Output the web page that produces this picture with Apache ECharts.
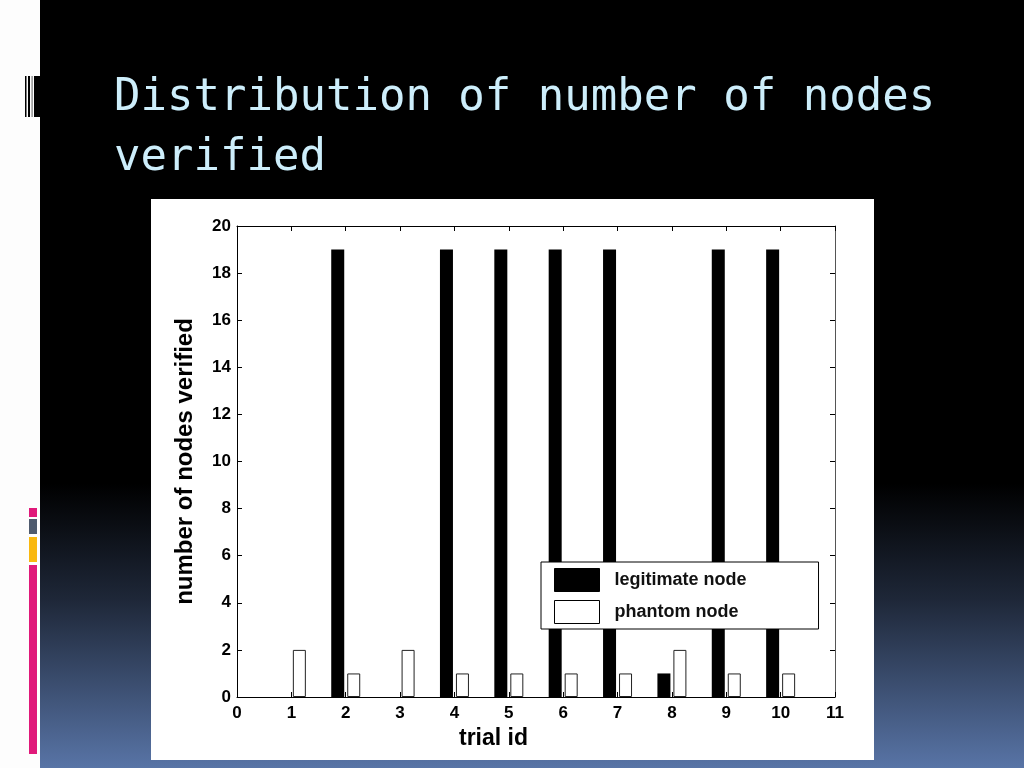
<!DOCTYPE html>
<html>
<head>
<meta charset="utf-8">
<script src="https://cdn.jsdelivr.net/npm/echarts@6/dist/echarts.min.js"></script>
<style>
html,body{margin:0;padding:0;background:#000;}
#c{width:1024px;height:768px;}
</style>
</head>
<body>
<div id="c"></div>
<script>
// ---- data ----
var trialIds = [1, 2, 3, 4, 5, 6, 7, 8, 9, 10];
var legitimateNodes = [0, 19, 0, 19, 19, 19, 19, 1, 19, 19];
var phantomNodes = [2, 1, 2, 1, 1, 1, 1, 2, 1, 1];
var seriesNames = ['legitimate node', 'phantom node'];
var titleText = 'Distribution of number of nodes\nverified';
var xAxisName = 'trial id';
var yAxisName = 'number of nodes verified';

var legitData = trialIds.map(function (t, i) { return [t, legitimateNodes[i]]; });
var phantomData = trialIds.map(function (t, i) { return [t, phantomNodes[i]]; });

var chart = echarts.init(document.getElementById('c'), null, {renderer: 'canvas'});
var font = 'Liberation Sans, Arial, Helvetica, sans-serif';

var option = {
  animation: false,
  backgroundColor: 'transparent',
  graphic: [
    {type: 'rect', z: -100, shape: {x: 0, y: 0, width: 1024, height: 768},
      style: {fill: new echarts.graphic.LinearGradient(0, 0, 0, 1, [
        {offset: 0, color: '#000000'},
        {offset: 0.63, color: '#000000'},
        {offset: 0.78, color: '#1e2738'},
        {offset: 1, color: '#5874a6'}
      ])}},
    {type: 'rect', z: -99, shape: {x: 0, y: 0, width: 40, height: 768}, style: {fill: '#fdfdfd'}},
    {type: 'rect', z: -98, shape: {x: 25, y: 76, width: 1.5, height: 41}, style: {fill: '#000'}},
    {type: 'rect', z: -98, shape: {x: 28, y: 76, width: 2, height: 41}, style: {fill: '#000'}},
    {type: 'rect', z: -98, shape: {x: 31.5, y: 76, width: 1.2, height: 41}, style: {fill: '#777'}},
    {type: 'rect', z: -98, shape: {x: 34, y: 76, width: 6, height: 41}, style: {fill: '#000'}},
    {type: 'rect', z: -98, shape: {x: 29, y: 508, width: 8, height: 9}, style: {fill: '#e0197a'}},
    {type: 'rect', z: -98, shape: {x: 29, y: 519, width: 8, height: 15}, style: {fill: '#4f5b6e'}},
    {type: 'rect', z: -98, shape: {x: 29, y: 537, width: 8, height: 25}, style: {fill: '#f9b80f'}},
    {type: 'rect', z: -98, shape: {x: 29, y: 565, width: 8, height: 189}, style: {fill: '#e0197a'}},
    {type: 'rect', z: -97, shape: {x: 151, y: 199, width: 723, height: 561}, style: {fill: '#ffffff'}},
    {type: 'text', z: 10, left: 459, top: 727,
      style: {text: xAxisName, font: 'bold 23px ' + font, fill: '#000'}}
  ],
  title: {
    text: titleText,
    left: 109,
    top: 64,
    textStyle: {
      fontFamily: 'DejaVu Sans Mono, monospace',
      fontSize: 44,
      fontWeight: 'normal',
      color: '#cdeefb',
      lineHeight: 60
    }
  },
  legend: {
    orient: 'vertical',
    left: 541,
    top: 562,
    padding: [6, 72, 5, 13],
    itemWidth: 45,
    itemHeight: 23,
    itemGap: 8,
    backgroundColor: '#fff',
    borderColor: '#000',
    borderWidth: 1,
    borderRadius: 0,
    icon: 'rect',
    textStyle: {fontFamily: font, fontSize: 18, fontWeight: 'bold', color: '#111', padding: [0, 0, 0, 10]},
    data: [
      {name: seriesNames[0], itemStyle: {color: '#000', borderColor: '#000', borderWidth: 1}},
      {name: seriesNames[1], itemStyle: {color: '#fff', borderColor: '#000', borderWidth: 1}}
    ]
  },
  grid: {left: 237, right: 189, top: 226, bottom: 71, containLabel: false},
  xAxis: [
    {type: 'value', min: 0, max: 11, interval: 1, position: 'bottom',
      axisLine: {show: true, onZero: false, lineStyle: {color: '#000', width: 1}},
      axisTick: {show: true, inside: true, length: 5, lineStyle: {color: '#000'}},
      axisLabel: {show: true, margin: 8, fontFamily: font, fontSize: 17, fontWeight: 'bold', color: '#000'},
      splitLine: {show: false}},
    {type: 'value', min: 0, max: 11, interval: 1, position: 'top',
      axisLine: {show: true, onZero: false, lineStyle: {color: '#000', width: 1}},
      axisTick: {show: true, inside: true, length: 5, lineStyle: {color: '#000'}},
      axisLabel: {show: false}, splitLine: {show: false}}
  ],
  yAxis: [
    {type: 'value', min: 0, max: 20, interval: 2, position: 'left',
      name: yAxisName, nameLocation: 'middle', nameGap: 40, nameRotate: 90,
      nameTextStyle: {fontFamily: font, fontSize: 24, fontWeight: 'bold', color: '#000'},
      axisLine: {show: true, onZero: false, lineStyle: {color: '#000', width: 1}},
      axisTick: {show: true, inside: true, length: 5, lineStyle: {color: '#000'}},
      axisLabel: {show: true, margin: 6, fontFamily: font, fontSize: 17, fontWeight: 'bold', color: '#000'},
      splitLine: {show: false}},
    {type: 'value', min: 0, max: 20, interval: 2, position: 'right',
      axisLine: {show: true, onZero: false, lineStyle: {color: '#555', width: 1}},
      axisTick: {show: true, inside: true, length: 5, lineStyle: {color: '#000'}},
      axisLabel: {show: false}, splitLine: {show: false}}
  ],
  series: [
    {name: seriesNames[0], type: 'bar', xAxisIndex: 0, yAxisIndex: 0,
      barWidth: 13, barGap: '23%',
      itemStyle: {color: '#000', borderColor: '#000', borderWidth: 0},
      data: legitData},
    {name: seriesNames[1], type: 'bar', xAxisIndex: 0, yAxisIndex: 0,
      barWidth: 13, barGap: '23%',
      itemStyle: {color: '#fff', borderColor: '#222', borderWidth: 1},
      data: phantomData}
  ]
};
chart.setOption(option);
</script>
</body>
</html>
